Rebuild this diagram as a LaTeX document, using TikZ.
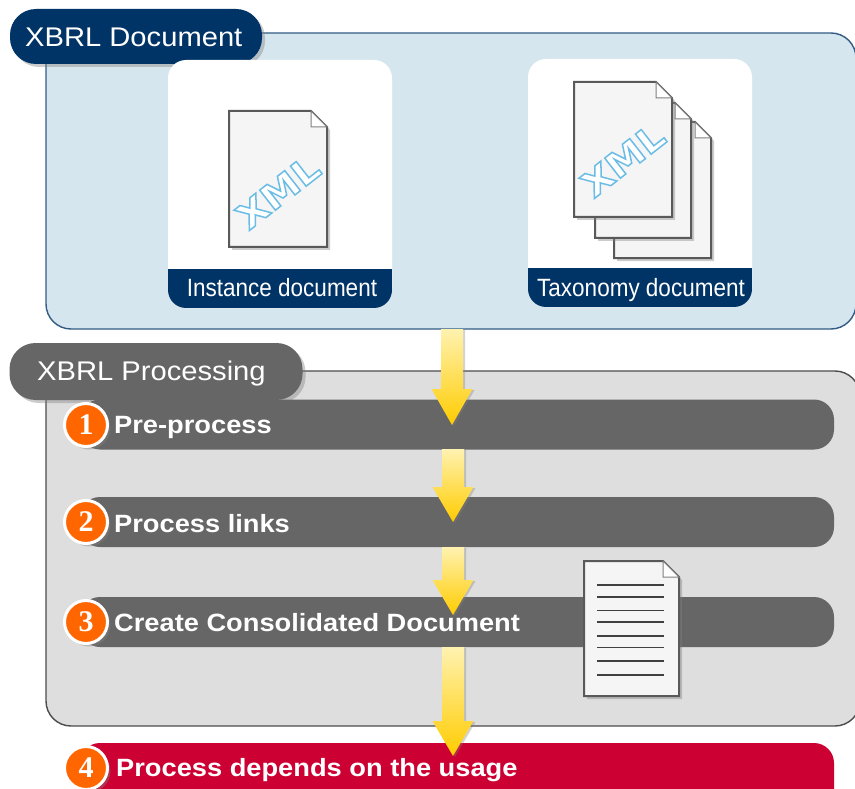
\documentclass[tikz,border=0pt]{standalone}
\usepackage{fontspec}
\setmainfont{Liberation Sans}
\newfontfamily\tabfont[FakeStretch=1.08]{Liberation Sans}
\newfontfamily\cardfont[FakeStretch=0.9]{Liberation Sans}
\newfontfamily\barfont[FakeStretch=1.09]{Liberation Sans Bold}
\newfontfamily\numfont{Liberation Serif Bold}
\newfontfamily\xmlfont[FakeStretch=1.12]{DejaVu Sans Bold}
\usetikzlibrary{calc,shadows}
\definecolor{navy}{HTML}{003366}
\definecolor{bargray}{HTML}{666666}
\definecolor{docblue}{HTML}{D6E6EF}
\definecolor{procgray}{HTML}{DEDEDE}
\definecolor{barred}{HTML}{CC0033}
\definecolor{numorange}{HTML}{FF6600}
\definecolor{arrowtop}{HTML}{FFF2B0}
\definecolor{arrowmid}{HTML}{FFDD55}
\definecolor{arrowend}{HTML}{FFCC00}
\tikzset{
  softshadow/.style={drop shadow={shadow xshift=3pt,shadow yshift=-3pt,opacity=.4}},
  panel/.style={rounded corners=25pt,inner sep=0pt,line width=1.4pt},
  tab/.style={rounded corners=26pt,inner sep=0pt,softshadow},
  tabtext/.style={anchor=west,inner sep=0pt,text=white,font=\tabfont\fontsize{27}{30}\selectfont},
  card/.style={fill=white,rounded corners=18pt,inner sep=0pt,minimum width=224pt,minimum height=248pt,
    path picture={\fill[navy,sharp corners] ($(path picture bounding box.south west)+(0,-39)$) rectangle (path picture bounding box.south east);}},
  cardtext/.style={inner sep=0pt,text=white,font=\cardfont\fontsize{25}{30}\selectfont},
  procbar/.style={rounded corners=20pt,inner sep=0pt,minimum width=754pt,minimum height=50pt},
  bartext/.style={anchor=west,inner sep=0pt,text=white,font=\barfont\fontsize{25}{30}\selectfont},
  numdot/.style={circle,fill=numorange,draw=white,line width=3pt,minimum size=43pt,inner sep=0pt,softshadow,text=white,font=\numfont\fontsize{30}{30}\selectfont},
  flowarrow/.style={top color=arrowtop,middle color=arrowmid,bottom color=arrowend,drop shadow={shadow xshift=2pt,shadow yshift=-1pt,opacity=.35}},
  sheet/.style={fill=white!96!black,draw=black!65,line width=2pt,softshadow},
  xmltext/.style={inner sep=0pt,rotate=38,text=white,font=\xmlfont\fontsize{35}{35}\selectfont}
}
\newcommand{\docsheet}[4]{%
  \path[sheet] (#1,#2) -- ($(#1,#2)+(#3-16,0)$) -- ($(#1,#2)+(#3,16)$) -- ($(#1,#2)+(#3,#4)$) -- ($(#1,#2)+(0,#4)$) -- cycle;
  \path[fill=white,draw=black!50,line width=1pt] ($(#1,#2)+(#3-16,0)$) -- ($(#1,#2)+(#3,16)$) -- ($(#1,#2)+(#3-16,16)$) -- cycle;
}
\newcommand{\flowarrowto}[3]{%
  \path[flowarrow] ($(#1)+(-11,0)$) -- ($(#1)+(11,0)$) -- ($(#2)+(11,-#3)$) -- ($(#2)+(20.5,-#3)$) -- (#2)
    -- ($(#2)+(-20.5,-#3)$) -- ($(#2)+(-11,-#3)$) -- cycle;
}
\newcommand{\xmloutline}{\special{pdf:code 0.42 0.74 0.9 RG 1.5 w 2 Tr}XML\special{pdf:code 0 Tr}}
\begin{document}
\begin{tikzpicture}[x=1pt,y=-1pt]
\useasboundingbox (0,0) rectangle (855,789);

% document panel
\node[panel,fill=docblue,draw=navy!80,minimum width=810pt,minimum height=296pt] (docpanel) at (451,181) {};
\node[tab,fill=navy,minimum width=252pt,minimum height=55pt] (doctab) at (136,36.5) {};
\node[tabtext] (doctabtext) at (25,37) {XBRL Document};

\node[card] (instcard) at (280,184) {};
\node[card] (taxcard) at (640,183) {};
\node[cardtext] (insttext) at (282,288) {Instance document};
\node[cardtext] (taxtext) at (641,290) {Taxonomy document};

\docsheet{229}{111}{98}{136}
\node[xmltext] (xml1) at (278,192) {\xmloutline};

\docsheet{614}{122}{97}{136}
\docsheet{595}{103}{96}{135}
\docsheet{574}{82}{98}{135}
\node[xmltext] (xml2) at (623,160) {\xmloutline};

% processing panel
\node[panel,fill=procgray,draw=black!70,minimum width=814pt,minimum height=355pt] (procpanel) at (453,548.5) {};
\node[tab,fill=bargray,minimum width=293pt,minimum height=57pt] (proctab) at (156,371.5) {};
\node[tabtext] (proctabtext) at (37,374) {XBRL Processing};

\node[procbar,fill=bargray] (bar1) at (457,424.5) {};
\node[procbar,fill=bargray] (bar2) at (457,522) {};
\node[procbar,fill=bargray] (bar3) at (457,622) {};
\node[procbar,fill=barred,minimum height=70pt] (bar4) at (457,778) {};

\node[numdot] (num1) at (86,425) {1};
\node[numdot] (num2) at (86,522) {2};
\node[numdot] (num3) at (86,622) {3};
\node[numdot] (num4) at (86,768) {4};

\node[bartext] (text1) at (114,427) {Pre-process};
\node[bartext] (text2) at (114,524) {Process links};
\node[bartext] (text3) at (114,623) {Create Consolidated Document};
\node[bartext] (text4) at (116,770) {Process depends on the usage};

\coordinate (a1) at (452,329);
\coordinate (b1) at (452,425);
\coordinate (a2) at (453,449);
\coordinate (b2) at (453,522);
\coordinate (a3) at (453,547);
\coordinate (b3) at (453,615);
\coordinate (a4) at (453,647);
\coordinate (b4) at (453,756);

\flowarrowto{a1}{b1}{36}
\flowarrowto{a2}{b2}{35}
\flowarrowto{a3}{b3}{35}
\flowarrowto{a4}{b4}{35}

% consolidated document
\docsheet{584}{561}{95}{135}
\foreach \liney in {585,597,610.5,622,636,647.7,661,675}
  \draw[black!75,line width=1.3pt] (597,\liney) -- (664,\liney);

\end{tikzpicture}
\end{document}
